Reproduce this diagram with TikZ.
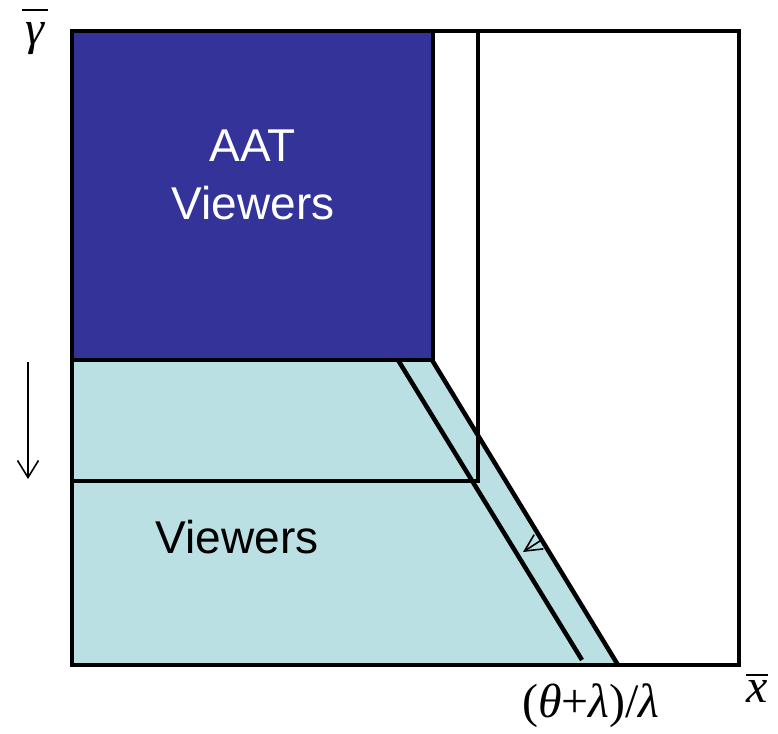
\documentclass[tikz,border=0pt]{standalone}
\usepackage{fontspec}
\setmainfont{Liberation Serif}
\newfontfamily\arialfont{Liberation Sans}
\usetikzlibrary{arrows.meta}
\definecolor{aatblue}{HTML}{333399}
\definecolor{viewcyan}{HTML}{BBE0E3}
\tikzset{
  thick line/.style={line width=4.5pt, line join=miter},
  thin arrow/.style={line width=1.6pt, -{Straight Barb[length=17pt,width=21pt,line width=1.6pt]}},
  region label/.style={font=\arialfont\fontsize{46}{58}\selectfont, align=center},
  axis label/.style={font=\fontsize{48}{56}\selectfont\itshape, inner sep=0pt},
  bar line/.style={line width=1.8pt}
}
\begin{document}
\begin{tikzpicture}[x=1pt,y=-1pt]
\useasboundingbox (0,0) rectangle (778,733);
% fills
\fill[viewcyan] (72,360) -- (432,360) -- (618,665) -- (72,665) -- cycle;
\fill[aatblue] (72,31) rectangle (433,360);
% lines
\draw[thick line] (72,360) -- (433,360) -- (433,31);
\draw[thick line] (478,31) -- (478,481) -- (72,481);
\draw[thick line] (398,360) -- (582,660);
\draw[thick line] (432,360) -- (618,665);
\draw[thick line] (72,31) rectangle (739,665);
% arrows
\coordinate (ga) at (28,362);
\coordinate (gb) at (28,479);
\draw[thin arrow] (ga) -- (gb);
\coordinate (sa) at (543,539);
\coordinate (sb) at (523,552);
\draw[line width=1.6pt, -{Straight Barb[length=17pt,width=17pt,line width=1.6pt]}] (sa) -- (sb);
% labels
\node[region label, text=white] (aat) at (253,175) {AAT\\Viewers};
\node[region label, text=black] (view) at (237,537) {Viewers};
\node[axis label] (gam) at (35,39) {γ};
\draw[bar line] (22,10) -- (48,10);
\node[axis label] (xb) at (757,691) {x};
\draw[bar line] (746,675) -- (768,675);
\node[axis label, font=\fontsize{48}{56}\selectfont] (frac) at (591,706) {(\textit{θ}+\textit{λ})/\textit{λ}};
\end{tikzpicture}
\end{document}
